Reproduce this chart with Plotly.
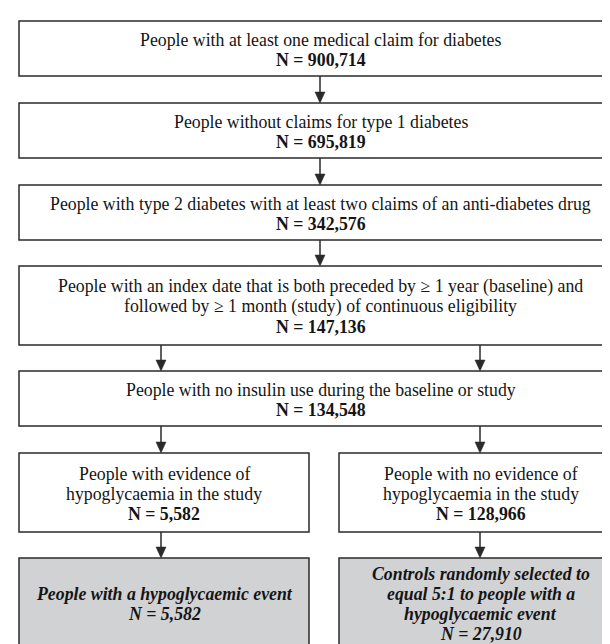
import plotly.graph_objects as go

# ---- content (data) ----
box_titles = [
    ["People with at least one medical claim for diabetes"],
    ["People without claims for type 1 diabetes"],
    ["People with type 2 diabetes with at least two claims of an anti-diabetes drug"],
    ["People with an index date that is both preceded by \u2265 1 year (baseline) and",
     "followed by \u2265 1 month (study) of continuous eligibility"],
    ["People with no insulin use during the baseline or study"],
    ["People with evidence of", "hypoglycaemia in the study"],
    ["People with no evidence of", "hypoglycaemia in the study"],
    ["People with a hypoglycaemic event"],
    ["Controls randomly selected to", "equal 5:1 to people with a", "hypoglycaemic event"],
]
box_counts = ["900,714", "695,819", "342,576", "147,136", "134,548",
              "5,582", "128,966", "5,582", "27,910"]
box_final = [False, False, False, False, False, False, False, True, True]

# ---- layout geometry (pixels) ----
W, H = 610, 644
FULL = (11, 614)
LEFT = (11, 301)
RIGHT = (331, 614)
rows = [(13, 68), (95, 150), (177, 232), (258, 337), (363, 418), (445, 524), (550, 660)]
box_geom = [
    (FULL, rows[0]), (FULL, rows[1]), (FULL, rows[2]), (FULL, rows[3]), (FULL, rows[4]),
    (LEFT, rows[5]), (RIGHT, rows[5]), (LEFT, rows[6]), (RIGHT, rows[6]),
]
arrow_x_mid = 312
arrow_x_left = 153
arrow_x_right = 472
arrows = [
    (arrow_x_mid, rows[0][1], rows[1][0]),
    (arrow_x_mid, rows[1][1], rows[2][0]),
    (arrow_x_mid, rows[2][1], rows[3][0]),
    (arrow_x_left, rows[3][1], rows[4][0]),
    (arrow_x_right, rows[3][1], rows[4][0]),
    (arrow_x_left, rows[4][1], rows[5][0]),
    (arrow_x_right, rows[4][1], rows[5][0]),
    (arrow_x_left, rows[5][1], rows[6][0]),
    (arrow_x_right, rows[5][1], rows[6][0]),
]

FONT = "Liberation Serif, Times New Roman, serif"
FS = 17.8
LINE_H = 20
LINE_COLOR = "#2a2a2a"
GREY = "#d1d2d4"
TEXT_COLOR = "#151515"

fig = go.Figure()
shapes = []
annotations = []

for i, ((x0, x1), (y0, y1)) in enumerate(box_geom):
    final = box_final[i]
    shapes.append(dict(type="rect", xref="x", yref="y", x0=x0, x1=x1, y0=y0, y1=y1,
                       line=dict(color=LINE_COLOR, width=1.5),
                       fillcolor=GREY if final else "white", layer="below"))
    if final:
        lines = ["<b><i>" + t + "</i></b>" for t in box_titles[i]]
        lines.append("<b><i>N = " + box_counts[i] + "</i></b>")
        yc = y0 + 46
    else:
        lines = list(box_titles[i])
        lines.append("<b>N = " + box_counts[i] + "</b>")
        yc = (y0 + y1) / 2 + 1
    n = len(lines)
    for k, t in enumerate(lines):
        yk = yc + (k - (n - 1) / 2) * LINE_H
        annotations.append(dict(x=(x0 + x1) / 2, y=yk, xref="x", yref="y", text=t,
                                showarrow=False, xanchor="center", yanchor="middle",
                                align="center", borderpad=0,
                                font=dict(family=FONT, size=FS, color=TEXT_COLOR)))

for (x, ya, yb) in arrows:
    head = 11
    shapes.append(dict(type="line", xref="x", yref="y", x0=x, x1=x, y0=ya, y1=yb - head + 1,
                       line=dict(color=LINE_COLOR, width=1.5)))
    shapes.append(dict(type="path", xref="x", yref="y",
                       path=f"M {x-5},{yb-head} L {x+5},{yb-head} L {x},{yb} Z",
                       fillcolor=LINE_COLOR, line=dict(color=LINE_COLOR, width=0.5)))

fig.update_layout(
    width=W, height=H, margin=dict(l=0, r=0, t=0, b=0),
    paper_bgcolor="white", plot_bgcolor="white",
    xaxis=dict(range=[0, W], visible=False, fixedrange=True),
    yaxis=dict(range=[H, 0], visible=False, fixedrange=True),
    shapes=shapes, annotations=annotations, showlegend=False,
)
fig.write_html("out.html")
